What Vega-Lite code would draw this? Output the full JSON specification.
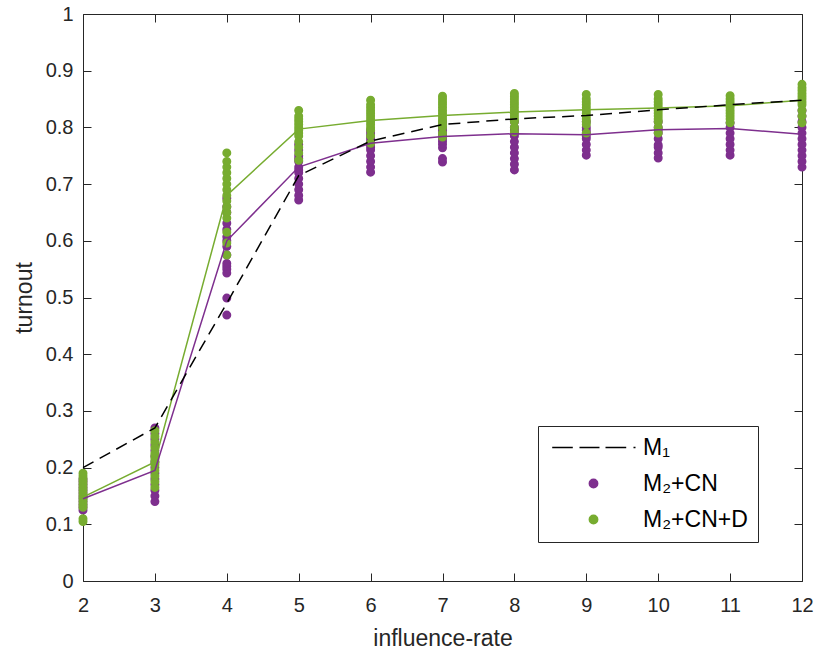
{
  "$schema": "https://vega.github.io/schema/vega-lite/v6.json",
  "width": 719,
  "height": 567,
  "autosize": {"type": "none"},
  "padding": {"left": 83, "top": 14, "right": 15, "bottom": 70},
  "background": "white",
  "config": {
    "font": "Liberation Sans",
    "view": {"stroke": "#262626", "strokeWidth": 1},
    "axis": {
      "labelFont": "Liberation Sans",
      "titleFont": "Liberation Sans",
      "labelFontSize": 20,
      "titleFontSize": 23,
      "titleFontWeight": "normal",
      "labelColor": "#262626",
      "titleColor": "#262626",
      "ticks": false,
      "domain": false,
      "grid": true,
      "gridColor": "#262626",
      "gridOpacity": 1,
      "gridWidth": 1,
      "labelFlush": false
    },
    "legend": {
      "orient": "none", "legendX": 455, "legendY": 412,
      "padding": 10, "strokeColor": "#262626", "fillColor": "white",
      "labelFontSize": 23, "labelColor": "#000000", "labelFont": "Liberation Sans",
      "symbolSize": 70, "symbolStrokeWidth": 1.5, "symbolOffset": 34, "labelOffset": 38, "rowPadding": 12
    }
  },
  "resolve": {"axis": {"x": "independent", "y": "independent"}},
  "datasets": {
    "pts": [
      {"x":2,"s":"M₂+CN","y":0.125},{"x":2,"s":"M₂+CN","y":0.13},{"x":2,"s":"M₂+CN","y":0.135},{"x":2,"s":"M₂+CN","y":0.14},{"x":2,"s":"M₂+CN","y":0.145},{"x":2,"s":"M₂+CN","y":0.15},{"x":2,"s":"M₂+CN","y":0.155},{"x":2,"s":"M₂+CN","y":0.16},{"x":2,"s":"M₂+CN","y":0.165},{"x":2,"s":"M₂+CN","y":0.17},{"x":2,"s":"M₂+CN","y":0.175},{"x":2,"s":"M₂+CN","y":0.18},
      {"x":3,"s":"M₂+CN","y":0.14},{"x":3,"s":"M₂+CN","y":0.15},{"x":3,"s":"M₂+CN","y":0.16},{"x":3,"s":"M₂+CN","y":0.17},{"x":3,"s":"M₂+CN","y":0.18},{"x":3,"s":"M₂+CN","y":0.19},{"x":3,"s":"M₂+CN","y":0.2},{"x":3,"s":"M₂+CN","y":0.21},{"x":3,"s":"M₂+CN","y":0.22},{"x":3,"s":"M₂+CN","y":0.23},{"x":3,"s":"M₂+CN","y":0.24},{"x":3,"s":"M₂+CN","y":0.25},{"x":3,"s":"M₂+CN","y":0.26},{"x":3,"s":"M₂+CN","y":0.27},
      {"x":4,"s":"M₂+CN","y":0.469},{"x":4,"s":"M₂+CN","y":0.499},{"x":4,"s":"M₂+CN","y":0.543},{"x":4,"s":"M₂+CN","y":0.55},{"x":4,"s":"M₂+CN","y":0.555},{"x":4,"s":"M₂+CN","y":0.56},{"x":4,"s":"M₂+CN","y":0.575},{"x":4,"s":"M₂+CN","y":0.59},{"x":4,"s":"M₂+CN","y":0.6},{"x":4,"s":"M₂+CN","y":0.607},{"x":4,"s":"M₂+CN","y":0.62},{"x":4,"s":"M₂+CN","y":0.631},{"x":4,"s":"M₂+CN","y":0.65},{"x":4,"s":"M₂+CN","y":0.66},{"x":4,"s":"M₂+CN","y":0.675},
      {"x":5,"s":"M₂+CN","y":0.672},{"x":5,"s":"M₂+CN","y":0.68},{"x":5,"s":"M₂+CN","y":0.69},{"x":5,"s":"M₂+CN","y":0.7},{"x":5,"s":"M₂+CN","y":0.71},{"x":5,"s":"M₂+CN","y":0.72},{"x":5,"s":"M₂+CN","y":0.725},{"x":5,"s":"M₂+CN","y":0.73},{"x":5,"s":"M₂+CN","y":0.74},{"x":5,"s":"M₂+CN","y":0.745},{"x":5,"s":"M₂+CN","y":0.75},{"x":5,"s":"M₂+CN","y":0.76},{"x":5,"s":"M₂+CN","y":0.77},
      {"x":6,"s":"M₂+CN","y":0.721},{"x":6,"s":"M₂+CN","y":0.73},{"x":6,"s":"M₂+CN","y":0.74},{"x":6,"s":"M₂+CN","y":0.75},{"x":6,"s":"M₂+CN","y":0.76},{"x":6,"s":"M₂+CN","y":0.765},{"x":6,"s":"M₂+CN","y":0.77},{"x":6,"s":"M₂+CN","y":0.775},{"x":6,"s":"M₂+CN","y":0.78},{"x":6,"s":"M₂+CN","y":0.785},{"x":6,"s":"M₂+CN","y":0.79},{"x":6,"s":"M₂+CN","y":0.795},
      {"x":7,"s":"M₂+CN","y":0.739},{"x":7,"s":"M₂+CN","y":0.745},{"x":7,"s":"M₂+CN","y":0.764},{"x":7,"s":"M₂+CN","y":0.77},{"x":7,"s":"M₂+CN","y":0.775},{"x":7,"s":"M₂+CN","y":0.78},{"x":7,"s":"M₂+CN","y":0.785},{"x":7,"s":"M₂+CN","y":0.79},{"x":7,"s":"M₂+CN","y":0.795},{"x":7,"s":"M₂+CN","y":0.8},{"x":7,"s":"M₂+CN","y":0.81},
      {"x":8,"s":"M₂+CN","y":0.725},{"x":8,"s":"M₂+CN","y":0.735},{"x":8,"s":"M₂+CN","y":0.745},{"x":8,"s":"M₂+CN","y":0.755},{"x":8,"s":"M₂+CN","y":0.765},{"x":8,"s":"M₂+CN","y":0.775},{"x":8,"s":"M₂+CN","y":0.785},{"x":8,"s":"M₂+CN","y":0.79},{"x":8,"s":"M₂+CN","y":0.795},{"x":8,"s":"M₂+CN","y":0.8},{"x":8,"s":"M₂+CN","y":0.81},
      {"x":9,"s":"M₂+CN","y":0.751},{"x":9,"s":"M₂+CN","y":0.76},{"x":9,"s":"M₂+CN","y":0.77},{"x":9,"s":"M₂+CN","y":0.78},{"x":9,"s":"M₂+CN","y":0.785},{"x":9,"s":"M₂+CN","y":0.79},{"x":9,"s":"M₂+CN","y":0.795},{"x":9,"s":"M₂+CN","y":0.8},{"x":9,"s":"M₂+CN","y":0.81},
      {"x":10,"s":"M₂+CN","y":0.746},{"x":10,"s":"M₂+CN","y":0.755},{"x":10,"s":"M₂+CN","y":0.765},{"x":10,"s":"M₂+CN","y":0.769},{"x":10,"s":"M₂+CN","y":0.78},{"x":10,"s":"M₂+CN","y":0.79},{"x":10,"s":"M₂+CN","y":0.795},{"x":10,"s":"M₂+CN","y":0.8},{"x":10,"s":"M₂+CN","y":0.81},
      {"x":11,"s":"M₂+CN","y":0.751},{"x":11,"s":"M₂+CN","y":0.76},{"x":11,"s":"M₂+CN","y":0.77},{"x":11,"s":"M₂+CN","y":0.78},{"x":11,"s":"M₂+CN","y":0.79},{"x":11,"s":"M₂+CN","y":0.8},{"x":11,"s":"M₂+CN","y":0.808},
      {"x":12,"s":"M₂+CN","y":0.73},{"x":12,"s":"M₂+CN","y":0.74},{"x":12,"s":"M₂+CN","y":0.75},{"x":12,"s":"M₂+CN","y":0.76},{"x":12,"s":"M₂+CN","y":0.77},{"x":12,"s":"M₂+CN","y":0.78},{"x":12,"s":"M₂+CN","y":0.79},{"x":12,"s":"M₂+CN","y":0.8},{"x":12,"s":"M₂+CN","y":0.81},{"x":12,"s":"M₂+CN","y":0.82},{"x":12,"s":"M₂+CN","y":0.83},
      {"x":2,"s":"M₂+CN+D","y":0.105},{"x":2,"s":"M₂+CN+D","y":0.11},{"x":2,"s":"M₂+CN+D","y":0.13},{"x":2,"s":"M₂+CN+D","y":0.135},{"x":2,"s":"M₂+CN+D","y":0.14},{"x":2,"s":"M₂+CN+D","y":0.145},{"x":2,"s":"M₂+CN+D","y":0.15},{"x":2,"s":"M₂+CN+D","y":0.155},{"x":2,"s":"M₂+CN+D","y":0.16},{"x":2,"s":"M₂+CN+D","y":0.165},{"x":2,"s":"M₂+CN+D","y":0.17},{"x":2,"s":"M₂+CN+D","y":0.175},{"x":2,"s":"M₂+CN+D","y":0.18},{"x":2,"s":"M₂+CN+D","y":0.185},{"x":2,"s":"M₂+CN+D","y":0.19},
      {"x":3,"s":"M₂+CN+D","y":0.165},{"x":3,"s":"M₂+CN+D","y":0.175},{"x":3,"s":"M₂+CN+D","y":0.185},{"x":3,"s":"M₂+CN+D","y":0.195},{"x":3,"s":"M₂+CN+D","y":0.205},{"x":3,"s":"M₂+CN+D","y":0.21},{"x":3,"s":"M₂+CN+D","y":0.215},{"x":3,"s":"M₂+CN+D","y":0.22},{"x":3,"s":"M₂+CN+D","y":0.225},{"x":3,"s":"M₂+CN+D","y":0.235},{"x":3,"s":"M₂+CN+D","y":0.245},{"x":3,"s":"M₂+CN+D","y":0.255},{"x":3,"s":"M₂+CN+D","y":0.265},
      {"x":4,"s":"M₂+CN+D","y":0.575},{"x":4,"s":"M₂+CN+D","y":0.596},{"x":4,"s":"M₂+CN+D","y":0.615},{"x":4,"s":"M₂+CN+D","y":0.64},{"x":4,"s":"M₂+CN+D","y":0.65},{"x":4,"s":"M₂+CN+D","y":0.66},{"x":4,"s":"M₂+CN+D","y":0.67},{"x":4,"s":"M₂+CN+D","y":0.68},{"x":4,"s":"M₂+CN+D","y":0.69},{"x":4,"s":"M₂+CN+D","y":0.7},{"x":4,"s":"M₂+CN+D","y":0.71},{"x":4,"s":"M₂+CN+D","y":0.72},{"x":4,"s":"M₂+CN+D","y":0.73},{"x":4,"s":"M₂+CN+D","y":0.74},{"x":4,"s":"M₂+CN+D","y":0.755},
      {"x":5,"s":"M₂+CN+D","y":0.742},{"x":5,"s":"M₂+CN+D","y":0.755},{"x":5,"s":"M₂+CN+D","y":0.765},{"x":5,"s":"M₂+CN+D","y":0.775},{"x":5,"s":"M₂+CN+D","y":0.785},{"x":5,"s":"M₂+CN+D","y":0.79},{"x":5,"s":"M₂+CN+D","y":0.795},{"x":5,"s":"M₂+CN+D","y":0.8},{"x":5,"s":"M₂+CN+D","y":0.805},{"x":5,"s":"M₂+CN+D","y":0.81},{"x":5,"s":"M₂+CN+D","y":0.815},{"x":5,"s":"M₂+CN+D","y":0.82},{"x":5,"s":"M₂+CN+D","y":0.83},
      {"x":6,"s":"M₂+CN+D","y":0.772},{"x":6,"s":"M₂+CN+D","y":0.785},{"x":6,"s":"M₂+CN+D","y":0.795},{"x":6,"s":"M₂+CN+D","y":0.8},{"x":6,"s":"M₂+CN+D","y":0.805},{"x":6,"s":"M₂+CN+D","y":0.81},{"x":6,"s":"M₂+CN+D","y":0.815},{"x":6,"s":"M₂+CN+D","y":0.82},{"x":6,"s":"M₂+CN+D","y":0.825},{"x":6,"s":"M₂+CN+D","y":0.83},{"x":6,"s":"M₂+CN+D","y":0.835},{"x":6,"s":"M₂+CN+D","y":0.84},{"x":6,"s":"M₂+CN+D","y":0.848},
      {"x":7,"s":"M₂+CN+D","y":0.783},{"x":7,"s":"M₂+CN+D","y":0.79},{"x":7,"s":"M₂+CN+D","y":0.8},{"x":7,"s":"M₂+CN+D","y":0.805},{"x":7,"s":"M₂+CN+D","y":0.81},{"x":7,"s":"M₂+CN+D","y":0.815},{"x":7,"s":"M₂+CN+D","y":0.82},{"x":7,"s":"M₂+CN+D","y":0.825},{"x":7,"s":"M₂+CN+D","y":0.83},{"x":7,"s":"M₂+CN+D","y":0.835},{"x":7,"s":"M₂+CN+D","y":0.84},{"x":7,"s":"M₂+CN+D","y":0.845},{"x":7,"s":"M₂+CN+D","y":0.85},{"x":7,"s":"M₂+CN+D","y":0.855},
      {"x":8,"s":"M₂+CN+D","y":0.792},{"x":8,"s":"M₂+CN+D","y":0.8},{"x":8,"s":"M₂+CN+D","y":0.81},{"x":8,"s":"M₂+CN+D","y":0.815},{"x":8,"s":"M₂+CN+D","y":0.82},{"x":8,"s":"M₂+CN+D","y":0.825},{"x":8,"s":"M₂+CN+D","y":0.83},{"x":8,"s":"M₂+CN+D","y":0.835},{"x":8,"s":"M₂+CN+D","y":0.84},{"x":8,"s":"M₂+CN+D","y":0.845},{"x":8,"s":"M₂+CN+D","y":0.85},{"x":8,"s":"M₂+CN+D","y":0.855},{"x":8,"s":"M₂+CN+D","y":0.86},
      {"x":9,"s":"M₂+CN+D","y":0.79},{"x":9,"s":"M₂+CN+D","y":0.805},{"x":9,"s":"M₂+CN+D","y":0.81},{"x":9,"s":"M₂+CN+D","y":0.815},{"x":9,"s":"M₂+CN+D","y":0.82},{"x":9,"s":"M₂+CN+D","y":0.825},{"x":9,"s":"M₂+CN+D","y":0.83},{"x":9,"s":"M₂+CN+D","y":0.835},{"x":9,"s":"M₂+CN+D","y":0.84},{"x":9,"s":"M₂+CN+D","y":0.845},{"x":9,"s":"M₂+CN+D","y":0.85},{"x":9,"s":"M₂+CN+D","y":0.858},
      {"x":10,"s":"M₂+CN+D","y":0.79},{"x":10,"s":"M₂+CN+D","y":0.8},{"x":10,"s":"M₂+CN+D","y":0.81},{"x":10,"s":"M₂+CN+D","y":0.815},{"x":10,"s":"M₂+CN+D","y":0.82},{"x":10,"s":"M₂+CN+D","y":0.825},{"x":10,"s":"M₂+CN+D","y":0.83},{"x":10,"s":"M₂+CN+D","y":0.835},{"x":10,"s":"M₂+CN+D","y":0.84},{"x":10,"s":"M₂+CN+D","y":0.845},{"x":10,"s":"M₂+CN+D","y":0.85},{"x":10,"s":"M₂+CN+D","y":0.858},
      {"x":11,"s":"M₂+CN+D","y":0.808},{"x":11,"s":"M₂+CN+D","y":0.815},{"x":11,"s":"M₂+CN+D","y":0.82},{"x":11,"s":"M₂+CN+D","y":0.825},{"x":11,"s":"M₂+CN+D","y":0.83},{"x":11,"s":"M₂+CN+D","y":0.835},{"x":11,"s":"M₂+CN+D","y":0.84},{"x":11,"s":"M₂+CN+D","y":0.845},{"x":11,"s":"M₂+CN+D","y":0.85},{"x":11,"s":"M₂+CN+D","y":0.856},
      {"x":12,"s":"M₂+CN+D","y":0.808},{"x":12,"s":"M₂+CN+D","y":0.82},{"x":12,"s":"M₂+CN+D","y":0.83},{"x":12,"s":"M₂+CN+D","y":0.84},{"x":12,"s":"M₂+CN+D","y":0.845},{"x":12,"s":"M₂+CN+D","y":0.85},{"x":12,"s":"M₂+CN+D","y":0.855},{"x":12,"s":"M₂+CN+D","y":0.86},{"x":12,"s":"M₂+CN+D","y":0.865},{"x":12,"s":"M₂+CN+D","y":0.87},{"x":12,"s":"M₂+CN+D","y":0.876}
    ],
    "lines": [
      {"x":2,"s":"M₁","y":0.2},{"x":3,"s":"M₁","y":0.27},{"x":4,"s":"M₁","y":0.49},{"x":5,"s":"M₁","y":0.715},{"x":6,"s":"M₁","y":0.776},{"x":7,"s":"M₁","y":0.805},{"x":8,"s":"M₁","y":0.815},{"x":9,"s":"M₁","y":0.821},{"x":10,"s":"M₁","y":0.831},{"x":11,"s":"M₁","y":0.84},{"x":12,"s":"M₁","y":0.848},
      {"x":2,"s":"M₂+CN","y":0.145},{"x":3,"s":"M₂+CN","y":0.195},{"x":4,"s":"M₂+CN","y":0.6},{"x":5,"s":"M₂+CN","y":0.73},{"x":6,"s":"M₂+CN","y":0.772},{"x":7,"s":"M₂+CN","y":0.784},{"x":8,"s":"M₂+CN","y":0.789},{"x":9,"s":"M₂+CN","y":0.787},{"x":10,"s":"M₂+CN","y":0.796},{"x":11,"s":"M₂+CN","y":0.798},{"x":12,"s":"M₂+CN","y":0.788},
      {"x":2,"s":"M₂+CN+D","y":0.148},{"x":3,"s":"M₂+CN+D","y":0.21},{"x":4,"s":"M₂+CN+D","y":0.68},{"x":5,"s":"M₂+CN+D","y":0.797},{"x":6,"s":"M₂+CN+D","y":0.812},{"x":7,"s":"M₂+CN+D","y":0.821},{"x":8,"s":"M₂+CN+D","y":0.827},{"x":9,"s":"M₂+CN+D","y":0.831},{"x":10,"s":"M₂+CN+D","y":0.834},{"x":11,"s":"M₂+CN+D","y":0.838},{"x":12,"s":"M₂+CN+D","y":0.848}
    ]
  },
  "layer": [
    {
      "data": {"name": "pts"},
      "mark": {"type": "point", "filled": true, "size": 56, "strokeWidth": 1.5, "opacity": 1},
      "encoding": {
        "x": {"field": "x", "type": "quantitative", "scale": {"domain": [2, 12], "nice": false},
              "axis": {"orient": "bottom", "title": "influence-rate", "values": [2,3,4,5,6,7,8,9,10,11,12], "gridDash": [8, 551, 8, 1000], "labelPadding": 14, "titlePadding": 12}},
        "y": {"field": "y", "type": "quantitative", "scale": {"domain": [0, 1], "nice": false},
              "axis": {"orient": "left", "title": "turnout", "values": [0,0.1,0.2,0.3,0.4,0.5,0.6,0.7,0.8,0.9,1], "format": "~g", "gridDash": [8, 703, 8, 1000], "labelPadding": 10, "titlePadding": 9}},
        "color": {"field": "s", "type": "nominal",
                  "scale": {"domain": ["M₁", "M₂+CN", "M₂+CN+D"], "range": ["#000000", "#7E2F8E", "#77AC30"]},
                  "legend": {"title": null}},
        "stroke": {"field": "s", "type": "nominal",
                  "scale": {"domain": ["M₁", "M₂+CN", "M₂+CN+D"], "range": ["#000000", "#7E2F8E", "#77AC30"]},
                  "legend": {"title": null}},
        "shape": {"field": "s", "type": "nominal",
                  "scale": {"domain": ["M₁", "M₂+CN", "M₂+CN+D"], "range": ["M-9.87,0H-4.95M-3.35,0H1.43M2.87,0H7.82M9.56,0H10.04", "circle", "circle"]},
                  "legend": {"title": null}}
      }
    },
    {
      "data": {"name": "lines"},
      "transform": [{"filter": "datum.s === 'M₂+CN'"}],
      "mark": {"type": "line", "strokeWidth": 1.5, "color": "#7E2F8E"},
      "encoding": {
        "x": {"field": "x", "type": "quantitative", "axis": null},
        "y": {"field": "y", "type": "quantitative", "axis": null}
      }
    },
    {
      "data": {"name": "lines"},
      "transform": [{"filter": "datum.s === 'M₂+CN+D'"}],
      "mark": {"type": "line", "strokeWidth": 1.5, "color": "#77AC30"},
      "encoding": {
        "x": {"field": "x", "type": "quantitative", "axis": null},
        "y": {"field": "y", "type": "quantitative", "axis": null}
      }
    },
    {
      "data": {"name": "lines"},
      "transform": [{"filter": "datum.s === 'M₁'"}],
      "mark": {"type": "line", "strokeWidth": 1.5, "strokeDash": [12, 7], "color": "#000000"},
      "encoding": {
        "x": {"field": "x", "type": "quantitative", "axis": null},
        "y": {"field": "y", "type": "quantitative", "axis": null}
      }
    }
  ]
}
